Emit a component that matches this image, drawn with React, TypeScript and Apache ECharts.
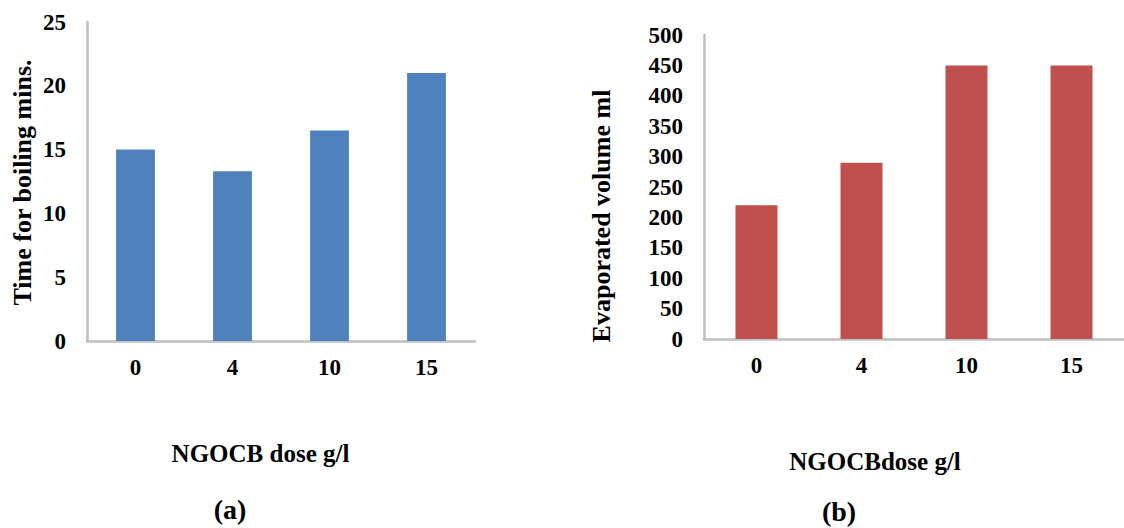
import React, { useEffect, useRef } from "react";
import * as echarts from "echarts";

const doses = ["0", "4", "10", "15"];
const boilingTime = [15, 13.3, 16.5, 21];
const evaporatedVolume = [220, 290, 450, 450];
const leftYAxisTitle = "Time for boiling mins.";
const rightYAxisTitle = "Evaporated volume ml";
const leftXAxisTitle = "NGOCB dose g/l";
const rightXAxisTitle = "NGOCBdose g/l";
const panelLabels = ["(a)", "(b)"];

const FONT = "Liberation Serif";
const AXIS_GRAY = "#BFBFBF";

export default function App() {
  const ref = useRef<HTMLDivElement>(null);
  useEffect(() => {
    if (!ref.current) return;
    const chart = echarts.init(ref.current, undefined, { renderer: "svg" });
    const tickLabel = { color: "#000", fontFamily: FONT, fontWeight: "bold" as const, fontSize: 23 };
    const axisLine = { show: true, lineStyle: { color: AXIS_GRAY, width: 2.5 } };
    const xTitleStyle = (shift: number) => ({
      color: "#000",
      fontFamily: FONT,
      fontWeight: "bold" as const,
      fontSize: 25,
      padding: [0, shift, 0, 0],
    });
    const yTitleStyle = (shift: number) => ({
      color: "#000",
      fontFamily: FONT,
      fontWeight: "bold" as const,
      fontSize: 26,
      padding: [0, shift, 0, 0],
    });
    chart.setOption({
      animation: false,
      backgroundColor: "#fff",
      textStyle: { fontFamily: FONT },
      grid: [
        { left: 87, top: 22, width: 388, height: 319 },
        { left: 704, top: 35, width: 424, height: 304 },
      ],
      xAxis: [
        {
          type: "category",
          gridIndex: 0,
          data: doses,
          axisTick: { show: false },
          axisLine,
          axisLabel: { ...tickLabel, margin: 15 },
          name: leftXAxisTitle,
          nameLocation: "middle",
          nameGap: 100,
          nameTextStyle: xTitleStyle(41),
        },
        {
          type: "category",
          gridIndex: 1,
          data: doses,
          axisTick: { show: false },
          axisLine,
          axisLabel: { ...tickLabel, margin: 15 },
          name: rightXAxisTitle,
          nameLocation: "middle",
          nameGap: 110,
          nameTextStyle: xTitleStyle(78),
        },
      ],
      yAxis: [
        {
          type: "value",
          gridIndex: 0,
          min: 0,
          max: 25,
          interval: 5,
          splitLine: { show: false },
          axisTick: { show: false },
          axisLine,
          axisLabel: { ...tickLabel, margin: 21 },
          name: leftYAxisTitle,
          nameLocation: "middle",
          nameRotate: 90,
          nameGap: 52,
          nameTextStyle: yTitleStyle(2),
        },
        {
          type: "value",
          gridIndex: 1,
          min: 0,
          max: 500,
          interval: 50,
          splitLine: { show: false },
          axisTick: { show: false },
          axisLine,
          axisLabel: { ...tickLabel, margin: 21 },
          name: rightYAxisTitle,
          nameLocation: "middle",
          nameRotate: 90,
          nameGap: 90,
          nameTextStyle: yTitleStyle(58),
        },
      ],
      series: [
        {
          type: "bar",
          xAxisIndex: 0,
          yAxisIndex: 0,
          data: boilingTime,
          barWidth: "40%",
          itemStyle: { color: "#4F81BD" },
        },
        {
          type: "bar",
          xAxisIndex: 1,
          yAxisIndex: 1,
          data: evaporatedVolume,
          barWidth: "40%",
          itemStyle: { color: "#C0504D" },
        },
      ],
      graphic: [
        {
          type: "text",
          x: 230,
          y: 509,
          style: {
            text: panelLabels[0],
            fill: "#000",
            fontFamily: FONT,
            fontWeight: "bold",
            fontSize: 28,
            align: "center",
            verticalAlign: "middle",
          },
        },
        {
          type: "text",
          x: 839,
          y: 511,
          style: {
            text: panelLabels[1],
            fill: "#000",
            fontFamily: FONT,
            fontWeight: "bold",
            fontSize: 28,
            align: "center",
            verticalAlign: "middle",
          },
        },
      ],
    });
    return () => chart.dispose();
  }, []);
  return (
    <div
      ref={ref}
      style={{ position: "fixed", left: 0, top: 0, width: 1124, height: 528 }}
    />
  );
}
